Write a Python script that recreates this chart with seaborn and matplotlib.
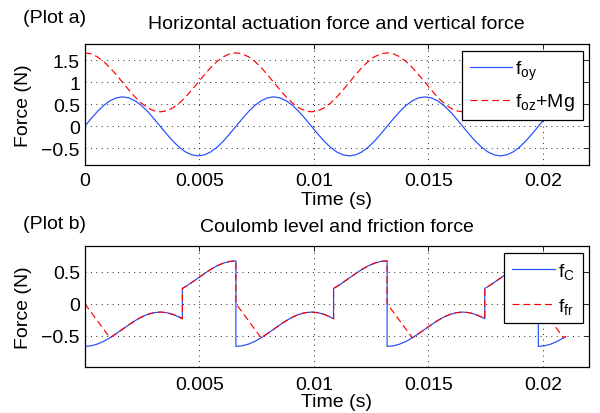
import matplotlib
matplotlib.use("Agg")
import matplotlib.pyplot as plt
import pandas as pd
import seaborn as sns

# ---------------- data ----------------
# Plot a: time samples (s)
t_a = [0, 0.000275, 0.00055, 0.000825, 0.0011, 0.001375, 0.00165, 0.001925,
       0.0022, 0.002475, 0.00275, 0.003025, 0.0033, 0.003575, 0.00385, 0.004125,
       0.0044, 0.004675, 0.00495, 0.005225, 0.0055, 0.005775, 0.00605, 0.006325,
       0.0066, 0.006875, 0.00715, 0.007425, 0.0077, 0.007975, 0.00825, 0.008525,
       0.0088, 0.009075, 0.00935, 0.009625, 0.0099, 0.010175, 0.01045, 0.010725,
       0.011, 0.011275, 0.01155, 0.011825, 0.0121, 0.012375, 0.01265, 0.012925,
       0.0132, 0.013475, 0.01375, 0.014025, 0.0143, 0.014575, 0.01485, 0.015125,
       0.0154, 0.015675, 0.01595, 0.016225, 0.0165, 0.016775, 0.01705, 0.017325,
       0.0176, 0.017875, 0.01815, 0.018425, 0.0187, 0.018975, 0.01925, 0.019525,
       0.0198, 0.020075, 0.02035, 0.020625, 0.0209, 0.021]

f_oy = [0, 0.173, 0.335, 0.474, 0.580, 0.647, 0.670, 0.647, 0.580, 0.474, 0.335, 0.173,
        0, -0.173, -0.335, -0.474, -0.580, -0.647, -0.670, -0.647, -0.580, -0.474, -0.335, -0.173,
        0, 0.173, 0.335, 0.474, 0.580, 0.647, 0.670, 0.647, 0.580, 0.474, 0.335, 0.173,
        0, -0.173, -0.335, -0.474, -0.580, -0.647, -0.670, -0.647, -0.580, -0.474, -0.335, -0.173,
        0, 0.173, 0.335, 0.474, 0.580, 0.647, 0.670, 0.647, 0.580, 0.474, 0.335, 0.173,
        0, -0.173, -0.335, -0.474, -0.580, -0.647, -0.670, -0.647, -0.580, -0.474, -0.335, -0.173,
        0, 0.173, 0.335, 0.474, 0.580, 0.609]

f_oz_mg = [1.670, 1.647, 1.580, 1.474, 1.335, 1.173, 1.000, 0.827, 0.665, 0.526, 0.420, 0.353,
           0.330, 0.353, 0.420, 0.526, 0.665, 0.827, 1.000, 1.173, 1.335, 1.474, 1.580, 1.647,
           1.670, 1.647, 1.580, 1.474, 1.335, 1.173, 1.000, 0.827, 0.665, 0.526, 0.420, 0.353,
           0.330, 0.353, 0.420, 0.526, 0.665, 0.827, 1.000, 1.173, 1.335, 1.474, 1.580, 1.647,
           1.670, 1.647, 1.580, 1.474, 1.335, 1.173, 1.000, 0.827, 0.665, 0.526, 0.420, 0.353,
           0.330, 0.353, 0.420, 0.526, 0.665, 0.827, 1.000, 1.173, 1.335, 1.474, 1.580, 1.647,
           1.670, 1.647, 1.580, 1.474, 1.335, 1.278]

# Plot b: Coulomb level f_C
t_c = [0, 0.000275, 0.00055, 0.000825, 0.0011, 0.001375, 0.00165, 0.001925,
       0.0022, 0.002475, 0.00275, 0.003025, 0.0033, 0.003575, 0.00385, 0.004125,
       0.0042625, 0.0042625,
       0.0044, 0.004675, 0.00495, 0.005225, 0.0055, 0.005775, 0.00605, 0.006325, 0.0066,
       0.0066,
       0.006875, 0.00715, 0.007425, 0.0077, 0.007975, 0.00825, 0.008525, 0.0088,
       0.009075, 0.00935, 0.009625, 0.0099, 0.010175, 0.01045, 0.010725,
       0.0108625, 0.0108625,
       0.011, 0.011275, 0.01155, 0.011825, 0.0121, 0.012375, 0.01265, 0.012925, 0.0132,
       0.0132,
       0.013475, 0.01375, 0.014025, 0.0143, 0.014575, 0.01485, 0.015125, 0.0154,
       0.015675, 0.01595, 0.016225, 0.0165, 0.016775, 0.01705, 0.017325,
       0.0174625, 0.0174625,
       0.0176, 0.017875, 0.01815, 0.018425, 0.0187, 0.018975, 0.01925, 0.019525, 0.0198,
       0.0198,
       0.020075, 0.02035, 0.020625, 0.0209, 0.021]

f_c = [-0.668, -0.659, -0.632, -0.590, -0.534, -0.469, -0.400, -0.331,
       -0.266, -0.210, -0.168, -0.141, -0.132, -0.141, -0.168, -0.210,
       -0.237, 0.237,
       0.266, 0.331, 0.400, 0.469, 0.534, 0.590, 0.632, 0.659, 0.668,
       -0.668,
       -0.659, -0.632, -0.590, -0.534, -0.469, -0.400, -0.331, -0.266,
       -0.210, -0.168, -0.141, -0.132, -0.141, -0.168, -0.210,
       -0.237, 0.237,
       0.266, 0.331, 0.400, 0.469, 0.534, 0.590, 0.632, 0.659, 0.668,
       -0.668,
       -0.659, -0.632, -0.590, -0.534, -0.469, -0.400, -0.331, -0.266,
       -0.210, -0.168, -0.141, -0.132, -0.141, -0.168, -0.210,
       -0.237, 0.237,
       0.266, 0.331, 0.400, 0.469, 0.534, 0.590, 0.632, 0.659, 0.668,
       -0.668,
       -0.659, -0.632, -0.590, -0.534, -0.511]

# Plot b: friction force f_fr
t_fr = [0, 0.0011, 0.001375, 0.00165, 0.001925, 0.0022, 0.002475, 0.00275,
        0.003025, 0.0033, 0.003575, 0.00385, 0.004125,
        0.0042625, 0.0042625,
        0.0044, 0.004675, 0.00495, 0.005225, 0.0055, 0.005775, 0.00605, 0.006325, 0.0066,
        0.0066, 0.0077, 0.007975, 0.00825, 0.008525, 0.0088, 0.009075, 0.00935,
        0.009625, 0.0099, 0.010175, 0.01045, 0.010725,
        0.0108625, 0.0108625,
        0.011, 0.011275, 0.01155, 0.011825, 0.0121, 0.012375, 0.01265, 0.012925, 0.0132,
        0.0132, 0.0143, 0.014575, 0.01485, 0.015125, 0.0154, 0.015675, 0.01595,
        0.016225, 0.0165, 0.016775, 0.01705, 0.017325,
        0.0174625, 0.0174625,
        0.0176, 0.017875, 0.01815, 0.018425, 0.0187, 0.018975, 0.01925, 0.019525, 0.0198,
        0.0198, 0.0209, 0.021]

f_fr = [0, -0.534, -0.469, -0.400, -0.331, -0.266, -0.210, -0.168,
        -0.141, -0.132, -0.141, -0.168, -0.210,
        -0.237, 0.237,
        0.266, 0.331, 0.400, 0.469, 0.534, 0.590, 0.632, 0.659, 0.668,
        0.0, -0.534, -0.469, -0.400, -0.331, -0.266, -0.210, -0.168,
        -0.141, -0.132, -0.141, -0.168, -0.210,
        -0.237, 0.237,
        0.266, 0.331, 0.400, 0.469, 0.534, 0.590, 0.632, 0.659, 0.668,
        0.0, -0.534, -0.469, -0.400, -0.331, -0.266, -0.210, -0.168,
        -0.141, -0.132, -0.141, -0.168, -0.210,
        -0.237, 0.237,
        0.266, 0.331, 0.400, 0.469, 0.534, 0.590, 0.632, 0.659, 0.668,
        0.0, -0.534, -0.511]

# ticks / labels
xticks_a = [0, 0.005, 0.01, 0.015, 0.02]
xticklabels_a = ["0", "0.005", "0.01", "0.015", "0.02"]
yticks_a = [-0.5, 0, 0.5, 1, 1.5]
yticklabels_a = ["\u22120.5", "0", "0.5", "1", "1.5"]
xticks_b = [0.005, 0.01, 0.015, 0.02]
xticklabels_b = ["0.005", "0.01", "0.015", "0.02"]
yticks_b = [-0.5, 0, 0.5]
yticklabels_b = ["\u22120.5", "0", "0.5"]

# ---------------- style ----------------
sns.set_theme(style="white")
plt.rcParams["font.family"] = ["Liberation Sans", "DejaVu Sans"]
plt.rcParams["text.color"] = "black"
plt.rcParams["lines.scale_dashes"] = False
FS = 14

fig = plt.figure(figsize=(6, 4.14), dpi=100)
ax1 = fig.add_axes([0.1412, 0.5998, 0.84, 0.2915])
ax2 = fig.add_axes([0.1412, 0.1111, 0.84, 0.2915])

df_a = pd.DataFrame({"t": t_a, "foy": f_oy, "foz": f_oz_mg})
df_c = pd.DataFrame({"t": t_c, "fc": f_c})
df_fr = pd.DataFrame({"t": t_fr, "ffr": f_fr})

BLUE = "#1f4dff"
RED = "#ff0000"
DASH = (0, (5.0, 2.8))

sns.lineplot(data=df_a, x="t", y="foy", ax=ax1, estimator=None, sort=False,
             color=BLUE, linewidth=0.85, legend=False)
sns.lineplot(data=df_a, x="t", y="foz", ax=ax1, estimator=None, sort=False,
             color=RED, linewidth=0.85, legend=False)
ax1.get_lines()[1].set_linestyle(DASH)

sns.lineplot(data=df_c, x="t", y="fc", ax=ax2, estimator=None, sort=False,
             color=BLUE, linewidth=0.85, legend=False)
sns.lineplot(data=df_fr, x="t", y="ffr", ax=ax2, estimator=None, sort=False,
             color=RED, linewidth=0.85, legend=False)
ax2.get_lines()[1].set_linestyle(DASH)


def style(ax, xlim, ylim, xt, xtl, yt, ytl, xpad, xlabelpad):
    ax.set_xlim(xlim)
    ax.set_ylim(ylim)
    ax.set_xticks(xt)
    ax.set_xticklabels(xtl)
    ax.set_yticks(yt)
    ax.set_yticklabels(ytl)
    ax.tick_params(axis="both", direction="in", length=3.5, width=0.6,
                   top=True, right=True, labelsize=FS, colors="black")
    ax.tick_params(axis="x", pad=xpad)
    ax.tick_params(axis="y", pad=3.4)
    ax.grid(True, linestyle=(0, (0.7, 3.2)), color="black", linewidth=0.6)
    ax.set_axisbelow(True)
    for s in ax.spines.values():
        s.set_color("black")
        s.set_linewidth(0.9)
    ax.set_xlabel("Time (s)", fontsize=FS, labelpad=xlabelpad, color="black")
    ax.set_ylabel("Force (N)", fontsize=FS, labelpad=7, color="black")
    ax.set_facecolor("white")


style(ax1, (0, 0.022), (-0.87, 1.87), xticks_a, xticklabels_a, yticks_a, yticklabels_a, 5.3, 1.2)
style(ax2, (0, 0.022), (-0.99, 0.895), xticks_b, xticklabels_b, yticks_b, yticklabels_b, 6.6, 0)

ax1.set_title("Horizontal actuation force and vertical force", fontsize=FS, pad=11.3, color="black")
ax2.set_title("Coulomb level and friction force", fontsize=FS, pad=10.8, color="black")

fig.text(23 / 600, 1 - 22.8 / 414, "(Plot a)", fontsize=FS, va="baseline", ha="left", color="black")
fig.text(23 / 600, 1 - 229.4 / 414, "(Plot b)", fontsize=FS, va="baseline", ha="left", color="black")

leg1 = ax1.legend(ax1.get_lines()[:2],
                  [r"$\mathregular{f_{oy}}$", r"$\mathregular{f_{oz}}$+Mg"],
                  loc="upper right", bbox_to_anchor=(0.988, 0.9445), fontsize=FS,
                  frameon=True, fancybox=False, edgecolor="black", framealpha=1,
                  borderpad=0.4, handlelength=2.15, handletextpad=0.17,
                  labelspacing=0.5, borderaxespad=0)
leg1.get_frame().set_linewidth(0.9)

leg2 = ax2.legend(ax2.get_lines()[:2],
                  [r"$\mathregular{f_{C}}$", r"$\mathregular{f_{fr}}$"],
                  loc="upper right", bbox_to_anchor=(0.988, 0.942), fontsize=FS,
                  frameon=True, fancybox=False, edgecolor="black", framealpha=1,
                  borderpad=0.4, handlelength=2.2, handletextpad=0.15,
                  labelspacing=0.75, borderaxespad=0)
leg2.get_frame().set_linewidth(0.9)

fig.savefig("out.png", dpi=100, facecolor="white")
